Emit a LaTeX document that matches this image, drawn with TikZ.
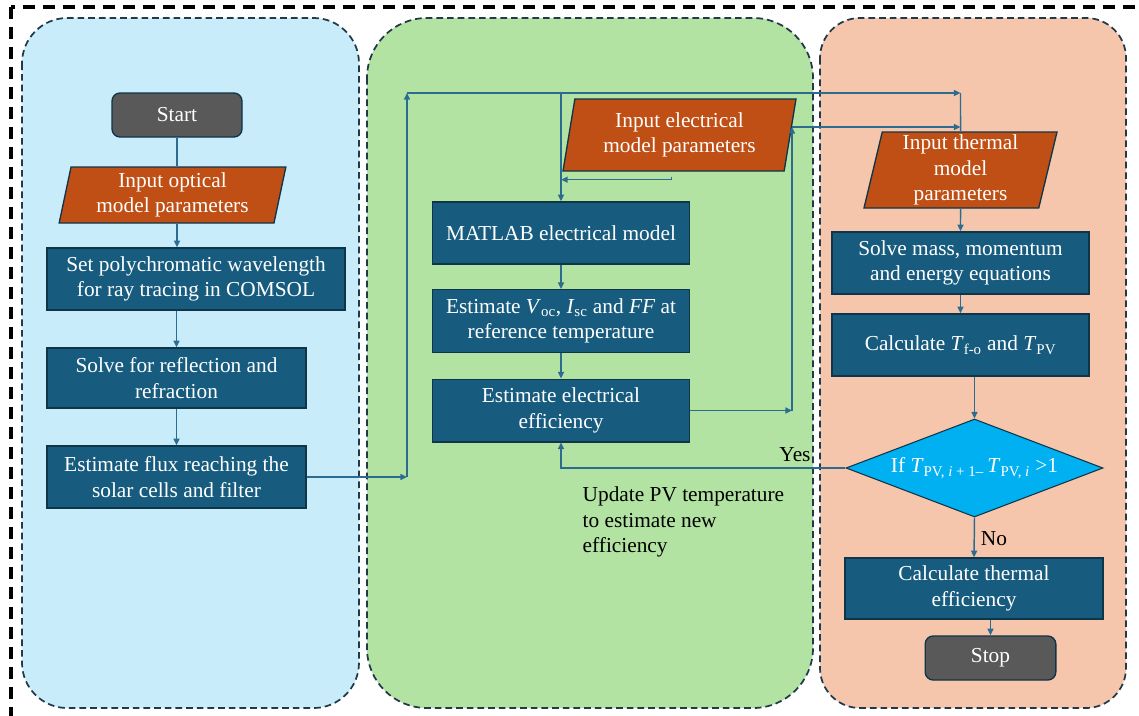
\documentclass[tikz,border=0pt]{standalone}
\usepackage{fontspec}
\setmainfont{Liberation Serif}
\usetikzlibrary{shapes.geometric,arrows.meta}
\definecolor{pblue}{HTML}{C9ECFB}
\definecolor{pgreen}{HTML}{B3E3A2}
\definecolor{porange}{HTML}{F5C6AC}
\definecolor{pborder}{HTML}{22394A}
\definecolor{boxfill}{HTML}{175C7E}
\definecolor{boxline}{HTML}{0F3548}
\definecolor{parafill}{HTML}{C04F15}
\definecolor{termfill}{HTML}{595959}
\definecolor{diafill}{HTML}{00B0F0}
\definecolor{conncol}{HTML}{2C6C90}
\tikzset{
  txt/.style={font=\fontsize{16}{19.2}\selectfont},
  panel/.style={draw=pborder, line width=1.3pt, dash pattern=on 5pt off 3pt},
  procbox/.style={rectangle, draw=boxline, line width=1pt, fill=boxfill, text=white,
    align=center, txt, inner sep=2pt},
  termbox/.style={rectangle, rounded corners=6pt, draw=boxline, line width=1pt, fill=termfill,
    text=white, align=center, txt},
  iobox/.style={trapezium, trapezium left angle=76, trapezium right angle=104,
    trapezium stretches body, draw=boxline, line width=1pt, fill=parafill, text=white,
    align=center, txt, inner sep=1pt},
  decbox/.style={diamond, aspect=2.6, draw=boxline, line width=0.8pt, fill=diafill, text=white,
    align=center, txt, inner sep=0pt},
  conn/.style={draw=conncol, line width=1.1pt},
  arr/.style={conn, -{Triangle[length=5pt,width=4.5pt]}},
  lbl/.style={text=black, txt},
}
\begin{document}
\begin{tikzpicture}[x=0.75pt,y=-0.75pt]
\useasboundingbox (0,0) rectangle (1139,715);
\fill[white] (0,0) rectangle (1139,715);
% outer frame
\draw[black, line width=2.4pt, dash pattern=on 9pt off 6pt] (11,7) rectangle (1160,730);
% panels
\filldraw[panel, fill=pblue, rounded corners=34pt] (22,18) rectangle (359,708);
\filldraw[panel, fill=pgreen, rounded corners=45pt] (367,18) rectangle (813,708);
\filldraw[panel, fill=porange, rounded corners=30pt] (820,18) rectangle (1126,708);

% left column
\node[termbox, minimum width=97.5pt, minimum height=33pt] (start) at (177,115) {Start};
\node[iobox, minimum width=170pt, minimum height=42pt] (optical) at (172.5,195) {Input optical\\model parameters};
\node[procbox, minimum width=223.5pt, minimum height=46.5pt] (setpoly) at (196,279) {Set polychromatic wavelength\\for ray tracing in COMSOL};
\node[procbox, minimum width=194.25pt, minimum height=45pt] (solve) at (176.5,378) {Solve for reflection and\\refraction};
\node[procbox, minimum width=194.25pt, minimum height=46.5pt] (flux) at (176.5,477) {Estimate flux reaching the\\solar cells and filter};

% middle column
\node[iobox, minimum width=174.75pt, minimum height=54pt] (elecin) at (679.5,135) {Input electrical\\model parameters};
\node[procbox, minimum width=192.75pt, minimum height=46.5pt] (matlab) at (561,233) {MATLAB electrical model};
\node[procbox, minimum width=192.75pt, minimum height=47pt] (voc) at (561,321) {Estimate \textit{V}\textsubscript{oc}, \textit{I}\textsubscript{sc} and \textit{FF} at\\reference temperature};
\node[procbox, minimum width=192.75pt, minimum height=47pt] (eff) at (561,410.5) {Estimate electrical\\efficiency};
\node[lbl, align=left, anchor=north west] (update) at (578,482) {Update PV temperature\\to estimate new\\efficiency};

% right column
\node[iobox, minimum width=144.75pt, minimum height=57pt] (thermin) at (960.5,170) {Input thermal\\model\\parameters};
\node[procbox, minimum width=192.75pt, minimum height=46.5pt] (solvemass) at (960.5,263) {Solve mass, momentum\\and energy equations};
\node[procbox, minimum width=192.75pt, minimum height=46.5pt] (calct) at (960.5,345) {Calculate \textit{T}\textsubscript{f-o} and \textit{T}\textsubscript{PV}};
\node[decbox, minimum width=192.75pt, minimum height=73.5pt] (dec) at (974.5,468) {If \textit{T}\textsubscript{PV, \textit{i} + 1–}\,\textit{T}\textsubscript{PV, \textit{i}} >1};
\node[procbox, minimum width=193.5pt, minimum height=45.75pt] (calcth) at (974,588.5) {Calculate thermal\\efficiency};
\node[termbox, minimum width=98pt, minimum height=33pt] (stop) at (990.5,658) {Stop};
\node[lbl] (yes) at (795,455) {Yes};
\node[lbl] (no) at (994,539) {No};

% routing coordinates
\coordinate (jL) at (407,93);
\coordinate (jR) at (960.5,93);
\coordinate (jE) at (792,127);

% connectors left
\draw[conn] (start.south) -- (start.south |- optical.north);
\draw[arr] (start.south |- optical.south) -- (start.south |- setpoly.north);
\draw[arr] (solve.north |- setpoly.south) -- (solve.north);
\draw[arr] (solve.south) -- (flux.north);
\draw[arr] (flux.east) -- (flux.east -| jL);
\draw[arr] (flux.east -| jL) -- (jL);
\draw[arr] (jL) -- (jR);
\draw[conn] (jR) -- (thermin.north);
\draw[arr] (jL -| matlab.north) -- (matlab.north);
\draw[conn, -{Triangle[length=5pt,width=4.5pt]}] ([xshift=-6pt,yshift=-3.75pt]elecin.south) -- ([xshift=-6pt,yshift=-6pt]elecin.south) -- ([yshift=-6pt]elecin.south -| matlab.north);
% middle
\draw[arr] (matlab.south) -- (voc.north);
\draw[arr] (voc.south) -- (eff.north);
\draw[arr] (eff.east) -- (eff.east -| jE);
\draw[arr] (eff.east -| jE) -- (jE);
\draw[arr] (jE) -- (jE -| thermin.north);
% right
\draw[arr] (thermin.south) -- (solvemass.north);
\draw[arr] (solvemass.south) -- (calct.north);
\draw[arr] (dec.north |- calct.south) -- (dec.north);
\draw[arr] (dec.west) -| (eff.south);
\draw[arr] (dec.south) -- (calcth.north);
\draw[arr] (stop.north |- calcth.south) -- (stop.north);
\end{tikzpicture}
\end{document}
